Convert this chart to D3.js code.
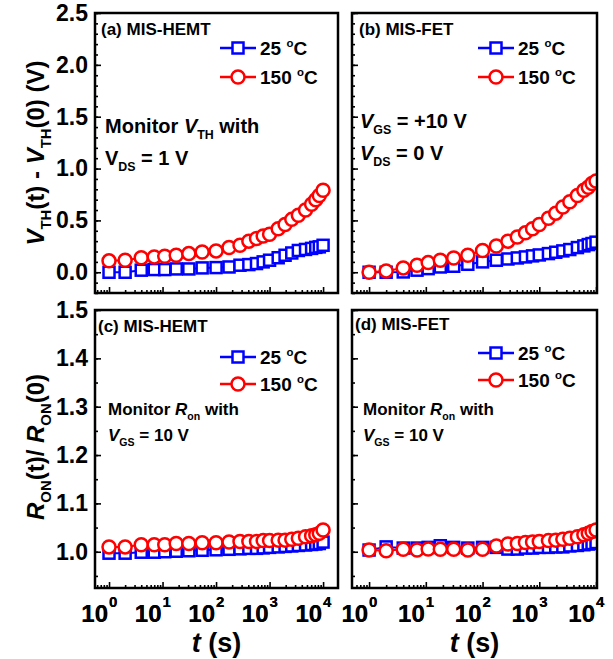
<!DOCTYPE html>
<html>
<head>
<meta charset="utf-8">
<script src="https://cdn.jsdelivr.net/npm/d3@7"></script>
<style>
  body { margin: 0; background: #fff; }
  text { font-family: Arial, "Liberation Sans", sans-serif; font-weight: bold; }
</style>
</head>
<body>
<div id="chart"></div>
<script>
// stress time (s), same schedule in every panel
const times = [1, 2, 4, 7, 11, 18, 31, 55, 100, 175, 280, 410, 570, 760, 1000, 1450, 1950, 2600, 3450, 4700, 6100, 7300, 8500, 10000];

// (a) MIS-HEMT, VTH shift (V)
const a25  = [0.00, 0.00, 0.02, 0.026, 0.026, 0.032, 0.032, 0.042, 0.045, 0.051, 0.068, 0.074, 0.084, 0.10, 0.116, 0.14, 0.164, 0.186, 0.21, 0.22, 0.23, 0.24, 0.245, 0.26];
const a150 = [0.11, 0.116, 0.14, 0.148, 0.154, 0.164, 0.18, 0.196, 0.206, 0.238, 0.26, 0.30, 0.325, 0.35, 0.367, 0.42, 0.46, 0.51, 0.55, 0.60, 0.656, 0.70, 0.74, 0.79];
// (b) MIS-FET, VTH shift (V)
const b25  = [0.0, 0.0, 0.003, 0.02, 0.035, 0.051, 0.058, 0.077, 0.10, 0.116, 0.128, 0.138, 0.148, 0.158, 0.167, 0.18, 0.193, 0.206, 0.219, 0.238, 0.254, 0.267, 0.277, 0.29];
const b150 = [0.0, 0.013, 0.042, 0.068, 0.093, 0.116, 0.138, 0.164, 0.21, 0.254, 0.30, 0.34, 0.38, 0.42, 0.46, 0.52, 0.57, 0.63, 0.68, 0.74, 0.79, 0.82, 0.856, 0.88];
// (c) MIS-HEMT, Ron ratio
const c25  = [0.997, 0.997, 0.999, 0.999, 1.000, 1.001, 1.002, 1.003, 1.004, 1.005, 1.006, 1.007, 1.007, 1.008, 1.009, 1.010, 1.011, 1.012, 1.013, 1.014, 1.015, 1.016, 1.017, 1.020];
const c150 = [1.010, 1.010, 1.0145, 1.0145, 1.0145, 1.017, 1.017, 1.0186, 1.0186, 1.020, 1.021, 1.021, 1.021, 1.023, 1.023, 1.024, 1.024, 1.026, 1.028, 1.031, 1.033, 1.035, 1.038, 1.045];
// (d) MIS-FET, Ron ratio
const d25  = [1.0035, 1.010, 1.0076, 1.0076, 1.009, 1.0124, 1.009, 1.0076, 1.009, 1.009, 1.0055, 1.0055, 1.0076, 1.0076, 1.009, 1.009, 1.010, 1.010, 1.012, 1.013, 1.0145, 1.016, 1.017, 1.019];
const d150 = [1.0035, 1.002, 1.005, 1.0035, 1.0055, 1.005, 1.005, 1.0035, 1.005, 1.012, 1.016, 1.017, 1.019, 1.020, 1.021, 1.023, 1.024, 1.026, 1.028, 1.031, 1.035, 1.038, 1.042, 1.045];

const xMajor = [1, 10, 100, 1000, 10000];
const vthTicks = [0.0, 0.5, 1.0, 1.5, 2.0, 2.5];
const ronTicks = [1.0, 1.1, 1.2, 1.3, 1.4, 1.5];
const legendLabels = ["25", "150"];

const W = 613, H = 659;
const BLUE = "#0000ff", RED = "#ff0000";

const svg = d3.select("#chart").append("svg")
    .attr("width", W).attr("height", H);

// write text made of segments: {t, it, sub, sup}
function richText(g, x, y, size, segs, anchor) {
    const txt = g.append("text").attr("x", x).attr("y", y)
        .attr("font-size", size).attr("text-anchor", anchor || "start");
    let shift = 0;
    segs.forEach(s => {
        let target = 0, fs = size;
        if (s.sub) { target = size * 0.28; fs = size * 0.62; }
        if (s.sup) { target = -size * 0.42; fs = size * 0.6; }
        txt.append("tspan")
            .attr("dy", target - shift)
            .attr("font-size", fs)
            .attr("font-style", s.it ? "italic" : "normal")
            .text(s.t);
        shift = target;
    });
    return txt;
}

const panels = [
    { id: "a", x0: 95, x1: 338, y0: 13, y1: 293, xDom: [0.547, 19000], yDom: [-0.2, 2.5],
      yMajor: vthTicks, yMinorStep: 0.1, showY: true, s25: a25, s150: a150,
      title: "(a) MIS-HEMT", titleX: 101, titleY: 35,
      legX: 220, legY: [48, 77],
      notes: [
        { x: 105, y: 133, size: 20, segs: [{ t: "Monitor " }, { t: "V", it: true }, { t: "TH", sub: true }, { t: " with" }] },
        { x: 105, y: 165, size: 20, segs: [{ t: "V" }, { t: "DS", sub: true }, { t: " = 1 V" }] }
      ] },
    { id: "b", x0: 352, x1: 597, y0: 13, y1: 293, xDom: [0.5, 10400], yDom: [-0.2, 2.5],
      yMajor: vthTicks, yMinorStep: 0.1, showY: false, s25: b25, s150: b150,
      title: "(b) MIS-FET", titleX: 359, titleY: 35,
      legX: 478, legY: [48, 77],
      notes: [
        { x: 360, y: 128, size: 20, segs: [{ t: "V", it: true }, { t: "GS", sub: true }, { t: " = +10 V" }] },
        { x: 360, y: 160, size: 20, segs: [{ t: "V", it: true }, { t: "DS", sub: true }, { t: " = 0 V" }] }
      ] },
    { id: "c", x0: 95, x1: 338, y0: 310, y1: 588, xDom: [0.547, 19000], yDom: [0.925, 1.5],
      yMajor: ronTicks, yMinorStep: 0.05, showY: true, s25: c25, s150: c150,
      title: "(c) MIS-HEMT", titleX: 98, titleY: 332,
      legX: 220, legY: [357, 384],
      notes: [
        { x: 108, y: 415, size: 17, segs: [{ t: "Monitor " }, { t: "R", it: true }, { t: "on", sub: true }, { t: " with" }] },
        { x: 108, y: 441, size: 17, segs: [{ t: "V", it: true }, { t: "GS", sub: true }, { t: " = 10 V" }] }
      ] },
    { id: "d", x0: 352, x1: 597, y0: 310, y1: 588, xDom: [0.5, 10400], yDom: [0.925, 1.5],
      yMajor: ronTicks, yMinorStep: 0.05, showY: false, s25: d25, s150: d150,
      title: "(d) MIS-FET", titleX: 355, titleY: 330,
      legX: 478, legY: [353, 380],
      notes: [
        { x: 363, y: 415, size: 17, segs: [{ t: "Monitor " }, { t: "R", it: true }, { t: "on", sub: true }, { t: " with" }] },
        { x: 363, y: 441, size: 17, segs: [{ t: "V", it: true }, { t: "GS", sub: true }, { t: " = 10 V" }] }
      ] }
];

function drawMarker(g, kind, x, y, color) {
    if (kind === "sq") {
        g.append("rect").attr("x", x - 5.5).attr("y", y - 5.5)
            .attr("width", 11).attr("height", 11)
            .attr("fill", "#fff").attr("stroke", color).attr("stroke-width", 2.5);
    } else {
        g.append("circle").attr("cx", x).attr("cy", y).attr("r", 6.5)
            .attr("fill", "#fff").attr("stroke", color).attr("stroke-width", 2.5);
    }
}

panels.forEach(p => {
    const x = d3.scaleLog().domain(p.xDom).range([p.x0, p.x1]);
    const y = d3.scaleLinear().domain(p.yDom).range([p.y1, p.y0]);
    const g = svg.append("g");

    // minor x ticks (2..9 per decade)
    const xMinor = [];
    for (let e = -1; e <= 4; e++) {
        for (let k = 2; k <= 9; k++) {
            const v = k * Math.pow(10, e);
            if (v > p.xDom[0] && v < p.xDom[1]) xMinor.push(v);
        }
    }
    const xAxMinor = g.append("g").attr("transform", `translate(0,${p.y1})`)
        .call(d3.axisBottom(x).tickValues(xMinor).tickSize(-3).tickFormat(""));
    const xAxMajor = g.append("g").attr("transform", `translate(0,${p.y1})`)
        .call(d3.axisBottom(x).tickValues(xMajor).tickSize(-6).tickFormat(""));
    [xAxMinor, xAxMajor].forEach(a => {
        a.select(".domain").remove();
        a.selectAll("line").attr("stroke", "#000").attr("stroke-width", 1.6);
    });
    // decade labels 10^n
    xMajor.forEach((v, i) => {
        const tx = x(v);
        g.append("text").attr("x", tx - 1).attr("y", 622)
            .attr("font-size", 24).attr("text-anchor", "end").text("10");
        g.append("text").attr("x", tx).attr("y", 607)
            .attr("font-size", 15).text(String(i));
    });

    // y ticks
    const yMinor = d3.range(p.yDom[0], p.yDom[1] + 1e-9, p.yMinorStep)
        .map(v => Math.round(v / p.yMinorStep) * p.yMinorStep)
        .filter(v => v >= p.yDom[0] - 1e-9);
    const yAxMinor = g.append("g").attr("transform", `translate(${p.x0},0)`)
        .call(d3.axisLeft(y).tickValues(yMinor).tickSize(-3).tickFormat(""));
    const yAxMajor = g.append("g").attr("transform", `translate(${p.x0},0)`)
        .call(d3.axisLeft(y).tickValues(p.yMajor).tickSize(-6).tickPadding(7)
            .tickFormat(p.showY ? d3.format(".1f") : ""));
    [yAxMinor, yAxMajor].forEach(a => {
        a.select(".domain").remove();
        a.selectAll("line").attr("stroke", "#000").attr("stroke-width", 1.6);
    });
    yAxMajor.selectAll("text")
        .attr("font-size", 23).attr("fill", "#000")
        .attr("font-family", "Arial, 'Liberation Sans', sans-serif")
        .attr("font-weight", "bold");

    // data, clipped to the frame
    const clipId = "clip-" + p.id;
    svg.append("clipPath").attr("id", clipId).append("rect")
        .attr("x", p.x0).attr("y", p.y0)
        .attr("width", p.x1 - p.x0).attr("height", p.y1 - p.y0);
    const dg = g.append("g").attr("clip-path", `url(#${clipId})`);
    const series = [
        { vals: p.s25, color: BLUE, kind: "sq" },
        { vals: p.s150, color: RED, kind: "ci" }
    ];
    series.forEach(s => {
        const pts = times.map((t, i) => [t, s.vals[i]]);
        dg.append("path").datum(pts)
            .attr("d", d3.line().x(d => x(d[0])).y(d => y(d[1])))
            .attr("fill", "none").attr("stroke", s.color).attr("stroke-width", 2);
        pts.forEach(d => drawMarker(dg, s.kind, x(d[0]), y(d[1]), s.color));
    });

    // frame
    g.append("rect").attr("x", p.x0).attr("y", p.y0)
        .attr("width", p.x1 - p.x0).attr("height", p.y1 - p.y0)
        .attr("fill", "none").attr("stroke", "#000").attr("stroke-width", 2.5);

    // panel title
    g.append("text").attr("x", p.titleX).attr("y", p.titleY)
        .attr("font-size", 17).text(p.title);

    // legend
    series.forEach((s, i) => {
        const ly = p.legY[i];
        g.append("line").attr("x1", p.legX).attr("x2", p.legX + 36)
            .attr("y1", ly).attr("y2", ly)
            .attr("stroke", s.color).attr("stroke-width", 2.5);
        drawMarker(g, s.kind, p.legX + 18, ly, s.color);
        richText(g, p.legX + 40, ly + 7, 19,
            [{ t: legendLabels[i] + " " }, { t: "o", sup: true }, { t: "C" }]);
    });

    // annotations
    p.notes.forEach(n => richText(g, n.x, n.y, n.size, n.segs));

    // x axis title for bottom row
    if (p.y0 > 300) {
        richText(g, (p.x0 + p.x1) / 2, 652, 27,
            [{ t: "t", it: true }, { t: " (s)" }], "middle");
    }
});

// y axis titles
const yt1 = svg.append("g").attr("transform", "translate(44,153) rotate(-90)");
richText(yt1, 0, 0, 24, [
    { t: "V", it: true }, { t: "TH", sub: true }, { t: "(t) - " },
    { t: "V", it: true }, { t: "TH", sub: true }, { t: "(0) (V)" }
], "middle");
const yt2 = svg.append("g").attr("transform", "translate(44,447) rotate(-90)");
richText(yt2, 0, 0, 24, [
    { t: "R", it: true }, { t: "ON", sub: true }, { t: "(t)/ " },
    { t: "R", it: true }, { t: "ON", sub: true }, { t: "(0)" }
], "middle");
</script>
</body>
</html>
